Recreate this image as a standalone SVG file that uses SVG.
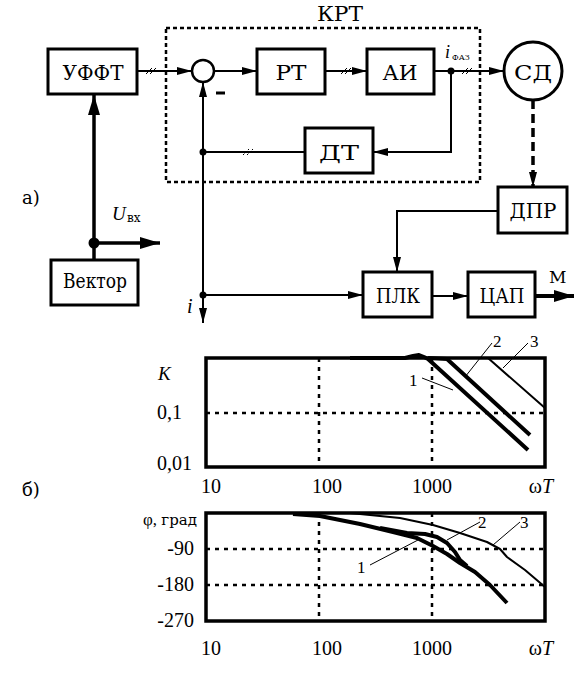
<svg xmlns="http://www.w3.org/2000/svg" width="575" height="681" viewBox="0 0 575 681" font-family="Liberation Serif, DejaVu Serif, serif">
<style>
text{font-family:'Liberation Serif','DejaVu Serif',serif;fill:#000}
text.cy,tspan.cy{font-family:'DejaVu Serif','Liberation Serif',serif}
.box{fill:#fff;stroke:#000;stroke-width:3}
.lbl{font-size:21px;text-anchor:middle}
.ln{fill:none;stroke:#000;stroke-width:2}
.lnT{fill:none;stroke:#000;stroke-width:3.5}
.hatch{stroke:#000;stroke-width:1;fill:none}
.frame{fill:none;stroke:#000;stroke-width:3.5}
.grid{fill:none;stroke:#000;stroke-width:2.5;stroke-dasharray:4 5}
.c12{fill:none;stroke:#000;stroke-width:4;stroke-linejoin:round}
.c3{fill:none;stroke:#000;stroke-width:2;stroke-linejoin:round}
.tick{font-size:20px}
.num{font-size:17px}
</style>
<defs>
<marker id="arr" markerUnits="userSpaceOnUse" markerWidth="15" markerHeight="8" refX="15" refY="4" orient="auto"><path d="M0,0 L15,4 L0,8 z" fill="#000"/></marker>
<marker id="arrB" markerUnits="userSpaceOnUse" markerWidth="20" markerHeight="12" refX="20" refY="6" orient="auto"><path d="M0,0 L20,6 L0,12 z" fill="#000"/></marker>
</defs>

<g id="krt">
<rect x="166" y="28" width="314" height="154" fill="none" stroke="#000" stroke-width="2.5" stroke-dasharray="4 3"/>
<text class="cy" x="340" y="21" font-size="20" text-anchor="middle" textLength="46" lengthAdjust="spacingAndGlyphs">КРТ</text>
</g>

<g id="connectors">
<line class="ln" x1="137" y1="71" x2="192" y2="71" marker-end="url(#arr)"/>
<line class="ln" x1="214" y1="71" x2="257" y2="71" marker-end="url(#arr)"/>
<line class="ln" x1="325" y1="71" x2="367" y2="71" marker-end="url(#arr)"/>
<line class="ln" x1="434" y1="71" x2="504" y2="71" marker-end="url(#arr)"/>
<circle cx="451" cy="71" r="3.5"/>
<polyline class="ln" points="451,71 451,152 373,152" marker-end="url(#arr)"/>
<line class="ln" x1="305" y1="152" x2="203" y2="152"/>
<circle cx="203" cy="152" r="3.5"/>
<line class="ln" x1="203" y1="295" x2="203" y2="82" marker-end="url(#arr)"/>
<line class="ln" x1="203" y1="152" x2="203" y2="323" marker-end="url(#arr)"/>
<circle cx="203" cy="295" r="3.5"/>
<line class="ln" x1="203" y1="295" x2="363" y2="295" marker-end="url(#arr)"/>
<line x1="533" y1="100" x2="533" y2="187" stroke="#000" stroke-width="3.5" stroke-dasharray="9 5" marker-end="url(#arr)"/>
<polyline class="ln" points="498,211 397,211 397,272" marker-end="url(#arr)"/>
<line class="ln" x1="432" y1="296" x2="468" y2="296" marker-end="url(#arr)"/>
<line x1="535" y1="296" x2="574" y2="296" stroke="#000" stroke-width="4" marker-end="url(#arrB)"/>
<line class="lnT" x1="94" y1="260" x2="94" y2="95" marker-end="url(#arrB)"/>
<circle cx="94" cy="243" r="5.5"/>
<line class="lnT" x1="94" y1="243" x2="160" y2="243" marker-end="url(#arrB)"/>
<path class="hatch" d="M146,74 L152,68 M150,74 L156,68"/>
<path class="hatch" d="M341,74 L347,68 M345,74 L351,68"/>
<path class="hatch" d="M462,74 L468,68 M466,74 L472,68"/>
<path class="hatch" d="M243,155 L249,149 M247,155 L253,149" stroke-dasharray="2 1.5"/>
</g>

<g id="sum">
<circle cx="203" cy="71" r="11" fill="#fff" stroke="#000" stroke-width="2.5"/>
<line x1="216" y1="93" x2="225" y2="93" stroke="#000" stroke-width="3"/>
</g>
<g id="uffT"><rect class="box" x="48" y="49" width="89" height="45"/><text class="lbl cy" x="93" y="80" textLength="61" lengthAdjust="spacingAndGlyphs">УФФТ</text></g>
<g id="rt"><rect class="box" x="257" y="49" width="68" height="45"/><text class="lbl cy" x="291" y="80" textLength="31" lengthAdjust="spacingAndGlyphs">РТ</text></g>
<g id="ai"><rect class="box" x="367" y="49" width="67" height="45"/><text class="lbl cy" x="400" y="80" textLength="35" lengthAdjust="spacingAndGlyphs">АИ</text></g>
<g id="dt"><rect class="box" x="305" y="128" width="68" height="45"/><text class="lbl cy" x="339" y="160" textLength="40" lengthAdjust="spacingAndGlyphs">ДТ</text></g>
<g id="sd"><circle cx="533" cy="71" r="29" fill="#fff" stroke="#000" stroke-width="3"/><text class="lbl cy" x="533" y="80" textLength="38" lengthAdjust="spacingAndGlyphs">СД</text></g>
<g id="dpr"><rect class="box" x="498" y="187" width="69" height="46"/><text class="lbl cy" x="533" y="218" textLength="47" lengthAdjust="spacingAndGlyphs">ДПР</text></g>
<g id="plk"><rect class="box" x="363" y="272" width="69" height="45"/><text class="lbl cy" x="398" y="303" textLength="44" lengthAdjust="spacingAndGlyphs">ПЛК</text></g>
<g id="cap"><rect class="box" x="468" y="272" width="67" height="45"/><text class="lbl cy" x="502" y="303" textLength="45" lengthAdjust="spacingAndGlyphs">ЦАП</text></g>
<g id="vector"><rect class="box" x="51" y="260" width="87" height="45"/><text class="lbl cy" x="95" y="288" font-size="20" textLength="64" lengthAdjust="spacingAndGlyphs">Вектор</text></g>

<g id="labels">
<text class="cy" x="22" y="204" font-size="18">а)</text>
<text x="445" y="58" font-size="18" font-style="italic">i</text>
<text class="cy" x="452" y="60" font-size="8">ФАЗ</text>
<text x="112" y="220" font-size="19" font-style="italic">U</text>
<text class="cy" x="127" y="222" font-size="12">вх</text>
<text x="187" y="313" font-size="20" font-style="italic">i</text>
<text class="cy" x="549" y="283" font-size="17">М</text>
<text class="cy" x="22" y="496" font-size="18">б)</text>
</g>

<g id="plotK">
<line class="grid" x1="206" y1="413" x2="545" y2="413"/>
<line class="grid" x1="319" y1="358" x2="319" y2="467"/>
<line class="grid" x1="432" y1="358" x2="432" y2="467"/>
<rect class="frame" x="206" y="358" width="339" height="109"/>
<polyline class="c12" points="350,358 405,358 413,356 419,355 424,357 428,359 528,450"/>
<polyline class="c12" points="428,358 447,359 530,435"/>
<polyline class="c3" points="445,358 488,358 545,408"/>
<line class="hatch" x1="422" y1="378" x2="453" y2="390"/>
<line class="hatch" x1="492" y1="343" x2="465" y2="377"/>
<line class="hatch" x1="528" y1="343" x2="503" y2="368"/>
<text class="num" x="409" y="386">1</text>
<text class="num" x="493" y="347">2</text>
<text class="num" x="530" y="347">3</text>
<text x="158" y="380" font-size="19" font-style="italic">K</text>
<text class="tick" x="157" y="419">0,1</text>
<text class="tick" x="157" y="470">0,01</text>
<text class="tick" x="211" y="493" text-anchor="middle">10</text>
<text class="tick" x="327" y="493" text-anchor="middle">100</text>
<text class="tick" x="432" y="493" text-anchor="middle">1000</text>
<text class="tick" x="541" y="493" text-anchor="middle">ω<tspan font-style="italic">T</tspan></text>
</g>

<g id="plotPhi">
<line class="grid" x1="206" y1="549" x2="545" y2="549"/>
<line class="grid" x1="206" y1="585" x2="545" y2="585"/>
<line class="grid" x1="319" y1="513" x2="319" y2="621"/>
<line class="grid" x1="432" y1="513" x2="432" y2="621"/>
<rect class="frame" x="206" y="513" width="339" height="108"/>
<polyline class="c12" points="293,514 320,516 360,524 393,532 417,538 433,546 447,554 460,563 475,572 490,585 507,603"/>
<polyline class="c12" points="380,528 407,533 425,534 437,537 447,543 455,552 460,560 467,566"/>
<polyline class="c3" points="350,513 400,518 433,525 460,533 487,542 500,549 507,557 525,570 545,587"/>
<line class="hatch" x1="370" y1="565" x2="418" y2="540"/>
<line class="hatch" x1="480" y1="522" x2="447" y2="540"/>
<line class="hatch" x1="520" y1="522" x2="493" y2="545"/>
<text class="num" x="357" y="573">1</text>
<text class="num" x="478" y="528">2</text>
<text class="num" x="520" y="528">3</text>
<text x="197" y="525" font-size="17" text-anchor="end">φ, <tspan class="cy" font-size="15">град</tspan></text>
<text class="tick" x="194" y="555" text-anchor="end">-90</text>
<text class="tick" x="194" y="591" text-anchor="end">-180</text>
<text class="tick" x="194" y="627" text-anchor="end">-270</text>
<text class="tick" x="211" y="655" text-anchor="middle">10</text>
<text class="tick" x="327" y="655" text-anchor="middle">100</text>
<text class="tick" x="432" y="655" text-anchor="middle">1000</text>
<text class="tick" x="541" y="655" text-anchor="middle">ω<tspan font-style="italic">T</tspan></text>
</g>
</svg>
